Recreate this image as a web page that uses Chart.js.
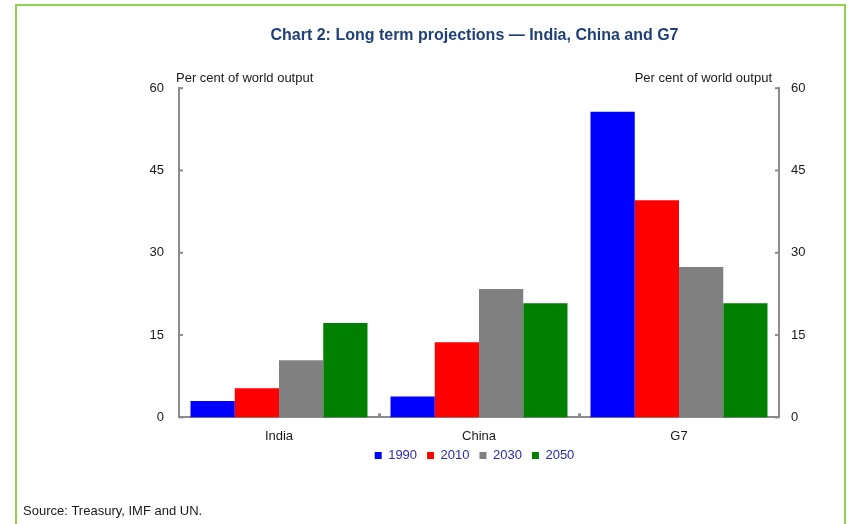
<!DOCTYPE html>
<html>
<head>
<meta charset="utf-8">
<script src="https://cdn.jsdelivr.net/npm/chart.js@4"></script>
<style>
  html, body { margin: 0; padding: 0; background: #fff; }
  #wrap { position: relative; width: 851px; height: 524px; overflow: hidden; }
  #frame { position: absolute; left: 15px; top: 4px; width: 831px; height: 540px; border: 2px solid #92d050; border-bottom: none; box-sizing: border-box; }
  canvas { position: absolute; left: 0; top: 0; }
</style>
</head>
<body>
<div id="wrap">
  <div id="frame"></div>
  <canvas id="chart" width="851" height="524"></canvas>
</div>
<script>
// Categories
const categories = ['India', 'China', 'G7'];

// Series (per cent of world output)
const years = ['1990', '2010', '2030', '2050'];
const s1990 = [3.0, 3.8, 55.7];
const s2010 = [5.3, 13.7, 39.6];
const s2030 = [10.4, 23.4, 27.4];
const s2050 = [17.2, 20.8, 20.8];

// Axis
const yTicks = [0, 15, 30, 45, 60];

const colors = ['#0000ff', '#ff0000', '#808080', '#008000'];
const seriesData = [s1990, s2010, s2030, s2050];

const axisGray = '#8c8c8c';
const textFont = "'Liberation Sans', Arial, sans-serif";

// small tick marks drawn inside the plot, plus axis titles and source note
const extras = {
    id: 'extras',
    afterLayout(chart) {
        // pull the legend up closer to the category labels
        const lg = chart.legend;
        lg.top -= 16;
        lg.bottom -= 16;
    },
    afterDraw(chart) {
        const c = chart.ctx;
        const area = chart.chartArea;
        const y = chart.scales.y;
        c.save();
        c.fillStyle = axisGray;
        yTicks.forEach(v => {
            const py = y.getPixelForValue(v);
            c.fillRect(area.left, py - 1, 4, 2);
            c.fillRect(area.right - 4, py - 1, 4, 2);
        });
        // category boundaries on x axis
        const n = categories.length;
        for (let i = 1; i < n; i++) {
            const px = area.left + (area.right - area.left) * i / n;
            c.fillRect(px - 1, area.bottom - 4, 3, 4);
        }

        c.fillStyle = '#1a1a1a';
        c.font = "13px " + textFont;
        c.textBaseline = 'alphabetic';
        c.textAlign = 'left';
        c.fillText('Per cent of world output', area.left - 3, area.top - 6);
        c.textAlign = 'right';
        c.fillText('Per cent of world output', area.right - 7, area.top - 6);

        c.textAlign = 'left';
        c.fillStyle = '#1a1a1a';
        c.fillText('Source: Treasury, IMF and UN.', 23, 515);
        c.restore();
    }
};

new Chart(document.getElementById('chart'), {
    type: 'bar',
    data: {
        labels: categories,
        datasets: years.map((yr, i) => ({
            label: yr,
            data: seriesData[i],
            backgroundColor: colors[i],
            borderWidth: 0,
            categoryPercentage: 0.885,
            barPercentage: 1.0,
            yAxisID: 'y'
        }))
    },
    options: {
        responsive: false,
        animation: false,
        layout: {
            padding: { left: 98, right: 0, top: 0, bottom: 36 }
        },
        plugins: {
            title: {
                display: true,
                text: 'Chart 2: Long term projections \u2014 India, China and G7',
                color: '#1f3f78',
                font: { family: textFont, size: 16, weight: 'bold' },
                padding: { top: 26, bottom: 43 }
            },
            legend: {
                position: 'bottom',
                labels: {
                    boxWidth: 7,
                    boxHeight: 7,
                    padding: 10,
                    color: '#2b2ba8',
                    font: { family: textFont, size: 13 }
                }
            },
            tooltip: { enabled: false }
        },
        scales: {
            x: {
                grid: { display: false, drawTicks: false },
                border: { display: true, color: axisGray, width: 2 },
                ticks: { color: '#1a1a1a', font: { family: textFont, size: 13 }, padding: 11 }
            },
            y: {
                position: 'left',
                min: 0,
                max: 60,
                afterFit(scale) { scale.width = 81; },
                afterBuildTicks(scale) { scale.ticks = yTicks.map(v => ({ value: v })); },
                grid: { display: false, drawTicks: false },
                border: { display: true, color: axisGray, width: 2 },
                ticks: { color: '#1a1a1a', font: { family: textFont, size: 13 }, padding: 15 }
            },
            y2: {
                position: 'right',
                min: 0,
                max: 60,
                afterFit(scale) { scale.width = 72; },
                afterBuildTicks(scale) { scale.ticks = yTicks.map(v => ({ value: v })); },
                grid: { display: false, drawTicks: false },
                border: { display: true, color: axisGray, width: 2 },
                ticks: { color: '#1a1a1a', font: { family: textFont, size: 13 }, padding: 12 }
            }
        }
    },
    plugins: [extras]
});
</script>
</body>
</html>
